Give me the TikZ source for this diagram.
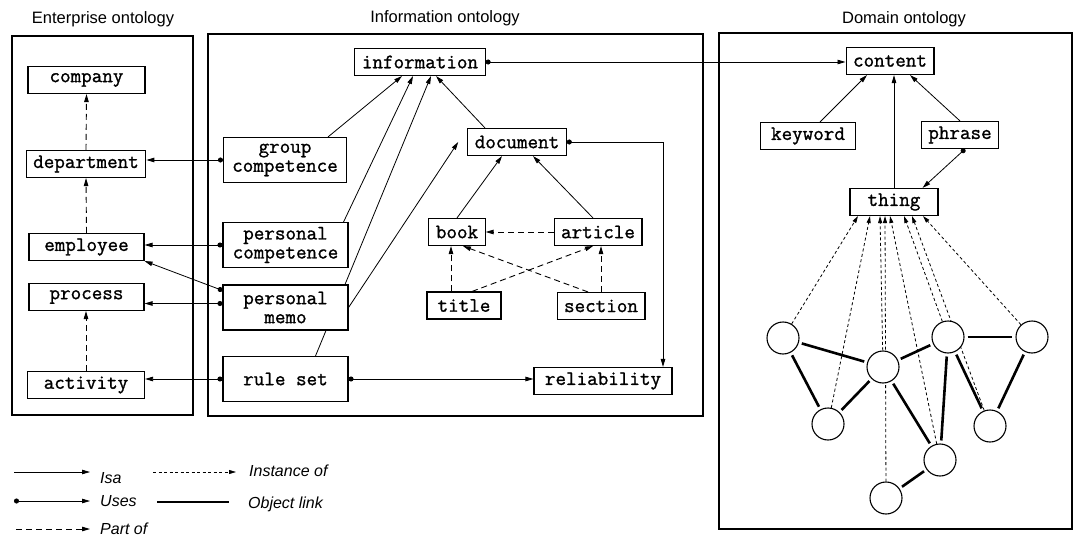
\documentclass[tikz,border=0pt]{standalone}
\usepackage{fontspec}
\setmainfont{Liberation Sans}
\newfontfamily\boxfont{Latin Modern Mono}[FakeBold=1.2]
\usetikzlibrary{arrows.meta,calc,backgrounds}

\begin{document}
\begin{tikzpicture}[x=1pt,y=-1pt,
  box/.style={draw,line width=1.1pt,fill=white,
    font=\boxfont\fontsize{20.5}{19}\selectfont,
    inner xsep=7pt,inner ysep=2pt,minimum height=27pt,align=center},
  twoline/.style={box,minimum height=45pt},
  panel/.style={draw,line width=1.1pt},
  ptitle/.style={font=\fontsize{16.5}{18}\selectfont},
  isa/.style={line width=0.8pt,-{Triangle[length=8pt,width=4.5pt]}},
  uses/.style={line width=0.8pt,{Circle[length=5pt]}-{Triangle[length=8pt,width=4.5pt]}},
  partof/.style={line width=0.9pt,dash pattern=on 6pt off 4pt,-{Triangle[length=8pt,width=4.5pt]}},
  inst/.style={line width=0.8pt,dash pattern=on 3pt off 2.5pt,-{Triangle[length=7pt,width=4pt]}},
  objlink/.style={line width=2.6pt,shorten <=3pt,shorten >=3pt},
  obj/.style={circle,draw,line width=1.1pt,fill=white,minimum size=32pt,inner sep=0pt},
  legend/.style={font=\itshape\fontsize{16}{18}\selectfont,anchor=west,inner sep=0pt}
]
\useasboundingbox (0,0) rectangle (1075,537);

% ---------- panels and titles ----------
\draw[panel] (12,36) rectangle (193,415);
\draw[panel] (208,34) rectangle (703,416);
\draw[panel] (719,33) rectangle (1072,529);
\node[ptitle] (tEnt) at (103,19) {Enterprise ontology};
\node[ptitle] (tInf) at (445,18) {Information ontology};
\node[ptitle] (tDom) at (904,19) {Domain ontology};

% ---------- enterprise ontology ----------
\node[box,minimum width=117pt] (company) at (86.5,80) {company};
\node[box] (dept) at (86,164) {department};
\node[box,minimum width=115pt] (employee) at (86.5,247) {employee};
\node[box,minimum width=115pt] (process) at (86.5,297) {process};
\node[box,minimum width=117pt] (activity) at (86,385) {activity};

% ---------- information ontology ----------
\node[box] (info) at (420,62) {information};
\node[twoline,minimum width=123pt] (gc) at (285,160) {group\\competence};
\node[twoline,minimum width=125pt] (pc) at (285.5,245) {personal\\competence};
\node[twoline,minimum width=125pt] (pm) at (285.5,307.5) {personal\\memo};
\node[twoline,minimum width=125pt] (rs) at (285.5,379) {rule set};
\node[box] (doc) at (517,142) {document};
\node[box] (book) at (457,232) {book};
\node[box] (article) at (598,232) {article};
\node[box,minimum width=74pt] (title) at (464,305.5) {title};
\node[box] (section) at (601,306) {section};
\node[box,minimum width=138pt] (rel) at (603,381) {reliability};

% ---------- domain ontology ----------
\node[box] (content) at (890,61) {content};
\node[box,minimum width=95pt] (keyword) at (808,136) {keyword};
\node[box,minimum width=77pt] (phrase) at (960,135) {phrase};
\node[box,minimum width=88pt] (thing) at (894,202) {thing};

\node[obj] (c1) at (783,338) {};
\node[obj] (c2) at (883,367) {};
\node[obj] (c3) at (948,337) {};
\node[obj] (c4) at (1032,337) {};
\node[obj] (c5) at (828,424) {};
\node[obj] (c6) at (990,426) {};
\node[obj] (c7) at (940,460) {};
\node[obj] (c8) at (886,498) {};

% ---------- part-of links ----------
\draw[partof] (employee.north) -- (dept.south);
\draw[partof] (dept.north) -- (company.south);
\draw[partof] (activity.north) -- (activity.north |- process.south);
\draw[partof] (article.west) -- (book.east);
\draw[partof] ($(title.north)+(-13,0)$) -- ($(book.south)+(-6,0)$);
\draw[partof] (section.north) -- (section.north |- article.south);
\draw[partof] ($(title.north)+(8,0)$) -- ($(article.south)+(-5,0)$);
\draw[partof] ($(section.north)+(-13,0)$) -- ($(book.south)+(6,0)$);

% ---------- isa links ----------
\draw[isa] ($(gc.north)+(43,0)$) -- ($(info.south)+(-18,0)$);
\draw[isa] ($(pc.north east)+(-5,0)$) -- ($(info.south)+(-7,0)$);
\begin{scope}[on background layer]
  \draw[isa] ($(rs.north)+(30,0)$) -- ($(info.south)+(11,0)$);
\end{scope}
\draw[isa] (pm.east) -- ($(doc.west)+(-9,0)$);
\draw[isa] ($(doc.north)+(-32,0)$) -- ($(info.south)+(16,0)$);
\draw[isa] (book.north) -- ($(doc.south)+(-15,0)$);
\draw[isa] ($(article.north)+(-5,0)$) -- ($(doc.south)+(16,0)$);
\draw[isa] ($(keyword.north)+(12,0)$) -- ($(content.south)+(-23,0)$);
\draw[isa] (phrase.north) -- ($(content.south)+(20,0)$);
\draw[isa] (thing.north) -- (thing.north |- content.south);

% ---------- uses links ----------
\coordinate (pmProc) at ($(pm.west)+(0,-4)$);
\draw[uses] (gc.west) -- (gc.west -| dept.east);
\draw[uses] (pc.west) -- (pc.west -| employee.east);
\draw[uses] ($(pm.north west)+(0,6)$) -- (employee.south east);
\draw[uses] (pmProc) -- (pmProc -| process.east);
\draw[uses] (rs.west) -- (rs.west -| activity.east);
\draw[uses] (info.east) -- (info.east -| content.west);
\draw[uses] (doc.east) -| ($(rel.north)+(60,0)$);
\draw[uses] (rs.east) -- (rs.east -| rel.west);
\draw[uses] ($(phrase.south)+(5,0)$) -- ($(thing.north east)+(-16,0)$);

% ---------- instance-of links ----------
\draw[inst] (c1) -- ($(thing.south)+(-36,0)$);
\draw[inst] (c5) -- ($(thing.south)+(-24,0)$);
\draw[inst] (c2) -- ($(thing.south)+(-14,0)$);
\draw[inst] (c7) -- ($(thing.south)+(-4,0)$);
\draw[inst] (c3) -- ($(thing.south)+(10,0)$);
\draw[inst] (c4) -- ($(thing.south)+(29,0)$);
\begin{scope}[on background layer]
  \draw[inst] (c8.center) -- ($(thing.south)+(-9,0)$);
  \draw[inst] (c6.center) -- ($(thing.south)+(18,0)$);
\end{scope}

% ---------- object links ----------
\draw[objlink] (c1) -- (c2);
\draw[objlink] (c1) -- (c5);
\draw[objlink] (c5) -- (c2);
\draw[objlink] (c2) -- (c3);
\draw[objlink] (c3) -- (c4);
\draw[objlink] (c3) -- (c7);
\draw[objlink] (c3) -- (c6);
\draw[objlink] (c4) -- (c6);
\draw[objlink] (c2) -- (c7);
\draw[objlink] (c7) -- (c8);

% ---------- legend ----------
\coordinate (isaA) at (14,472);   \coordinate (isaB) at (90,472);
\coordinate (insA) at (153,472);  \coordinate (insB) at (236,472);
\coordinate (useA) at (14,501);   \coordinate (useB) at (90,501);
\coordinate (objA) at (157,502);  \coordinate (objB) at (229,502);
\coordinate (prtA) at (16,529);   \coordinate (prtB) at (90,529);
\draw[isa] (isaA) -- (isaB);
\draw[inst] (insA) -- (insB);
\draw[uses] (useA) -- (useB);
\draw[line width=2.6pt] (objA) -- (objB);
\draw[partof] (prtA) -- (prtB);
\node[legend] (lIsa) at (100,478) {Isa};
\node[legend] (lIns) at (249,471) {Instance of};
\node[legend] (lUse) at (100,501) {Uses};
\node[legend] (lObj) at (248,504) {Object link};
\node[legend] (lPrt) at (100,529) {Part of};
\end{tikzpicture}
\end{document}
